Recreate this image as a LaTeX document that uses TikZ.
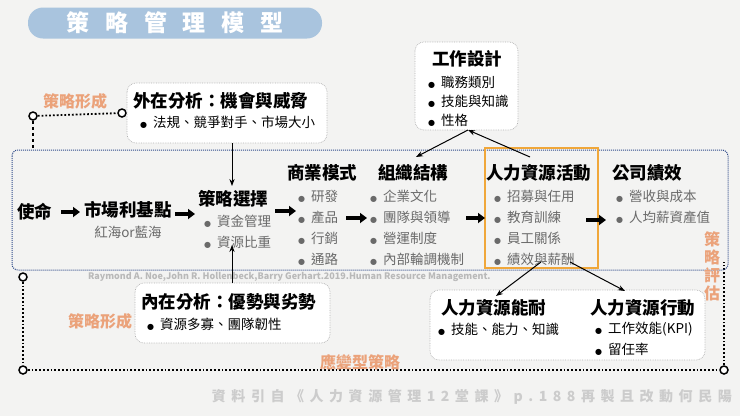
\documentclass[tikz,border=0pt]{standalone}
\usepackage{fontspec}
\setmainfont{Noto Sans CJK TC}
\newfontfamily\dejavu{DejaVu Sans}
\newcommand{\bul}{{\dejavu\fontsize{8}{8}\selectfont ●}\ \ }
\usetikzlibrary{arrows.meta}
\definecolor{bg}{HTML}{F3F3F2}
\definecolor{pill}{HTML}{A9C4DE}
\definecolor{org}{HTML}{EBA27A}
\definecolor{navy}{HTML}{2E4A8A}
\definecolor{itemgray}{HTML}{6A6A6A}
\definecolor{boxorange}{HTML}{F0A73A}
\tikzset{
  head/.style={anchor=west,font=\fontsize{17.5}{18}\selectfont\bfseries,inner sep=0},
  item/.style={anchor=west,font=\fontsize{13.5}{14}\selectfont,inner sep=0,text=itemgray},
  bitem/.style={anchor=west,font=\fontsize{13.5}{14}\selectfont,inner sep=0,text=black},
  orgtxt/.style={font=\fontsize{16}{17}\selectfont\bfseries,text=org,inner sep=0},
  dbox/.style={draw=gray!60,densely dotted,rounded corners=9pt,fill=white,line width=0.7pt},
  bigarrow/.style={-{Triangle[length=7pt,width=10pt]},line width=3.2pt},
  thin/.style={-{Stealth[length=7pt]},line width=1pt},
  pathline/.style={line width=1.8pt,dotted},
  ring/.style={circle,draw,line width=1.5pt,fill=white,inner sep=0,minimum size=8pt}
}
\begin{document}
\begin{tikzpicture}[x=1pt,y=-1pt]
\fill[bg] (0,0) rectangle (740,416);
\useasboundingbox (0,0) rectangle (740,416);
% title
\node[fill=pill,rounded corners=15pt,minimum width=294pt,minimum height=31pt,text=white,font=\fontsize{23}{24}\selectfont\bfseries] (title) at (175,23) {策\ \ \ 略\ \ \ 管\ \ \ 理\ \ \ 模\ \ \ 型};
% paths
\node[ring] (c1) at (33,116) {};
\node[ring] (c2) at (122,113) {};
\node[ring] (c3) at (23,277) {};
\node[ring] (c4) at (23,370) {};
\node[ring] (c5) at (724,370) {};
\coordinate (c6) at (724,262);
\coordinate (c7) at (33,150);
\draw[pathline] (c1) -- (c2);
\draw[line width=1.8pt,dashed] (c1) -- (c7);
\draw[pathline] (c3) -- (c4) -- (c5) -- (c6);
% main box
\draw[navy,densely dotted,line width=1pt,rounded corners=6pt] (12,150) rectangle (728,270);
\node[orgtxt] (sf1) at (75,101) {策略形成};
\node[orgtxt] (sf2) at (100,321) {策略形成};
\node[orgtxt] (yb) at (360,362) {應變型策略};
\node[orgtxt,align=center,font=\fontsize{16}{18}\selectfont\bfseries] (pg) at (712,266) {策\\略\\評\\估};
% external box
\draw[dbox] (127,83) rectangle (327,143);
\node[head] (ext) at (133,101) {外在分析：機會與威脅};
\node[bitem] (ext1) at (140,122) {\bul 法規、競爭對手、市場大小};
% internal box
\draw[dbox] (135,283) rectangle (330,343);
\node[head] (int) at (141,302) {內在分析：優勢與劣勢};
\node[bitem] (int1) at (147,324) {\bul 資源多寡、團隊韌性};
% job design
\draw[dbox] (415,42) rectangle (518,130);
\node[head] (jd) at (432,59) {工作設計};
\node[bitem] (jd1) at (428,82) {\bul 職務類別};
\node[bitem] (jd2) at (428,101) {\bul 技能與知識};
\node[bitem] (jd3) at (428,120) {\bul 性格};
% bottom right
\draw[dbox] (430,290) rectangle (705,360);
\node[head] (cap) at (441,308) {人力資源能耐};
\node[bitem] (cap1) at (438,329) {\bul 技能、能力、知識};
\node[head] (act) at (590,308) {人力資源行動};
\node[bitem] (act1) at (595,329) {\bul 工作效能(KPI)};
\node[bitem] (act2) at (595,349) {\bul 留任率};
% citations
\node[anchor=west,inner sep=0,text=gray!55,font=\fontsize{9}{9}\selectfont\bfseries] (cite) at (88,277) {Raymond A. Noe,John R. Hollenbeck,Barry Gerhart.2019.Human Resource Management.};
\node[anchor=east,inner sep=0,text=gray!40,font=\fontsize{14}{15}\selectfont\bfseries] (src) at (732,397) {資\ \,料\ \,引\ \,自\ \,《\ \,人\ \,力\ \,資\ \,源\ \,管\ \,理\ \,1\ \,2\ \,堂\ \,課\ \,》\ \,p\ \,.\ \,1\ \,8\ \,8\ \,再\ \,製\ \,且\ \,改\ \,動\ \,何\ \,民\ \,陽};
% orange box
\draw[boxorange,line width=1.2pt] (485,148) rectangle (598,268);
% main row
\node[head] (m) at (17,212) {使命};
\node[head] (n) at (84,210) {市場利基點};
\node[item,anchor=center] (n1) at (128,232) {紅海or藍海};
\node[head] (s) at (198,199) {策略選擇};
\node[item] (s1) at (204,221) {\bul 資金管理};
\node[item] (s2) at (204,242) {\bul 資源比重};
\node[head] (b) at (287,173) {商業模式};
\node[item] (b1) at (298,196) {\bul 研發};
\node[item] (b2) at (298,217) {\bul 產品};
\node[item] (b3) at (298,238) {\bul 行銷};
\node[item] (b4) at (298,259) {\bul 通路};
\node[head] (o) at (378,173) {組織結構};
\node[item] (o1) at (370,196) {\bul 企業文化};
\node[item] (o2) at (370,217) {\bul 團隊與領導};
\node[item] (o3) at (370,238) {\bul 營運制度};
\node[item] (o4) at (370,259) {\bul 內部輪調機制};
\node[head] (h) at (486,173) {人力資源活動};
\node[item] (h1) at (494,196) {\bul 招募與任用};
\node[item] (h2) at (494,217) {\bul 教育訓練};
\node[item] (h3) at (494,238) {\bul 員工關係};
\node[item] (h4) at (494,259) {\bul 績效與薪酬};
\node[head] (p) at (612,173) {公司績效};
\node[item] (p1) at (616,196) {\bul 營收與成本};
\node[item] (p2) at (616,217) {\bul 人均薪資產值};
% arrows
\coordinate (a1s) at (61,212); \coordinate (a1e) at (80,212);
\coordinate (a2s) at (175,214); \coordinate (a2e) at (195,214);
\coordinate (a3s) at (275,211); \coordinate (a3e) at (296,211);
\coordinate (a4s) at (346,218); \coordinate (a4e) at (367,218);
\coordinate (a5s) at (466,218); \coordinate (a5e) at (485,218);
\coordinate (a6s) at (586,220); \coordinate (a6e) at (606,220);
\draw[bigarrow] (a1s) -- (a1e);
\draw[bigarrow] (a2s) -- (a2e);
\draw[bigarrow] (a3s) -- (a3e);
\draw[bigarrow] (a4s) -- (a4e);
\draw[bigarrow] (a5s) -- (a5e);
\draw[bigarrow] (a6s) -- (a6e);
\coordinate (eb) at (232,143);
\coordinate (ib) at (232,283);
\coordinate (et) at (232,186);
\coordinate (it) at (232,245);
\draw[thin] (eb) -- (et);
\draw[thin] (ib) -- (it);
\coordinate (jdb) at (468,130);
\coordinate (ht) at (530,157);
\coordinate (ot) at (416,157);
\draw[thin] (ht) -- (jdb);
\draw[thin] (jdb) -- (ot);
\coordinate (hb1) at (541,262); \coordinate (capt) at (496,296);
\coordinate (hb2) at (570,262); \coordinate (actt) at (625,291);
\draw[thin] (hb1) -- (capt);
\draw[thin] (hb2) -- (actt);
\end{tikzpicture}
\end{document}
